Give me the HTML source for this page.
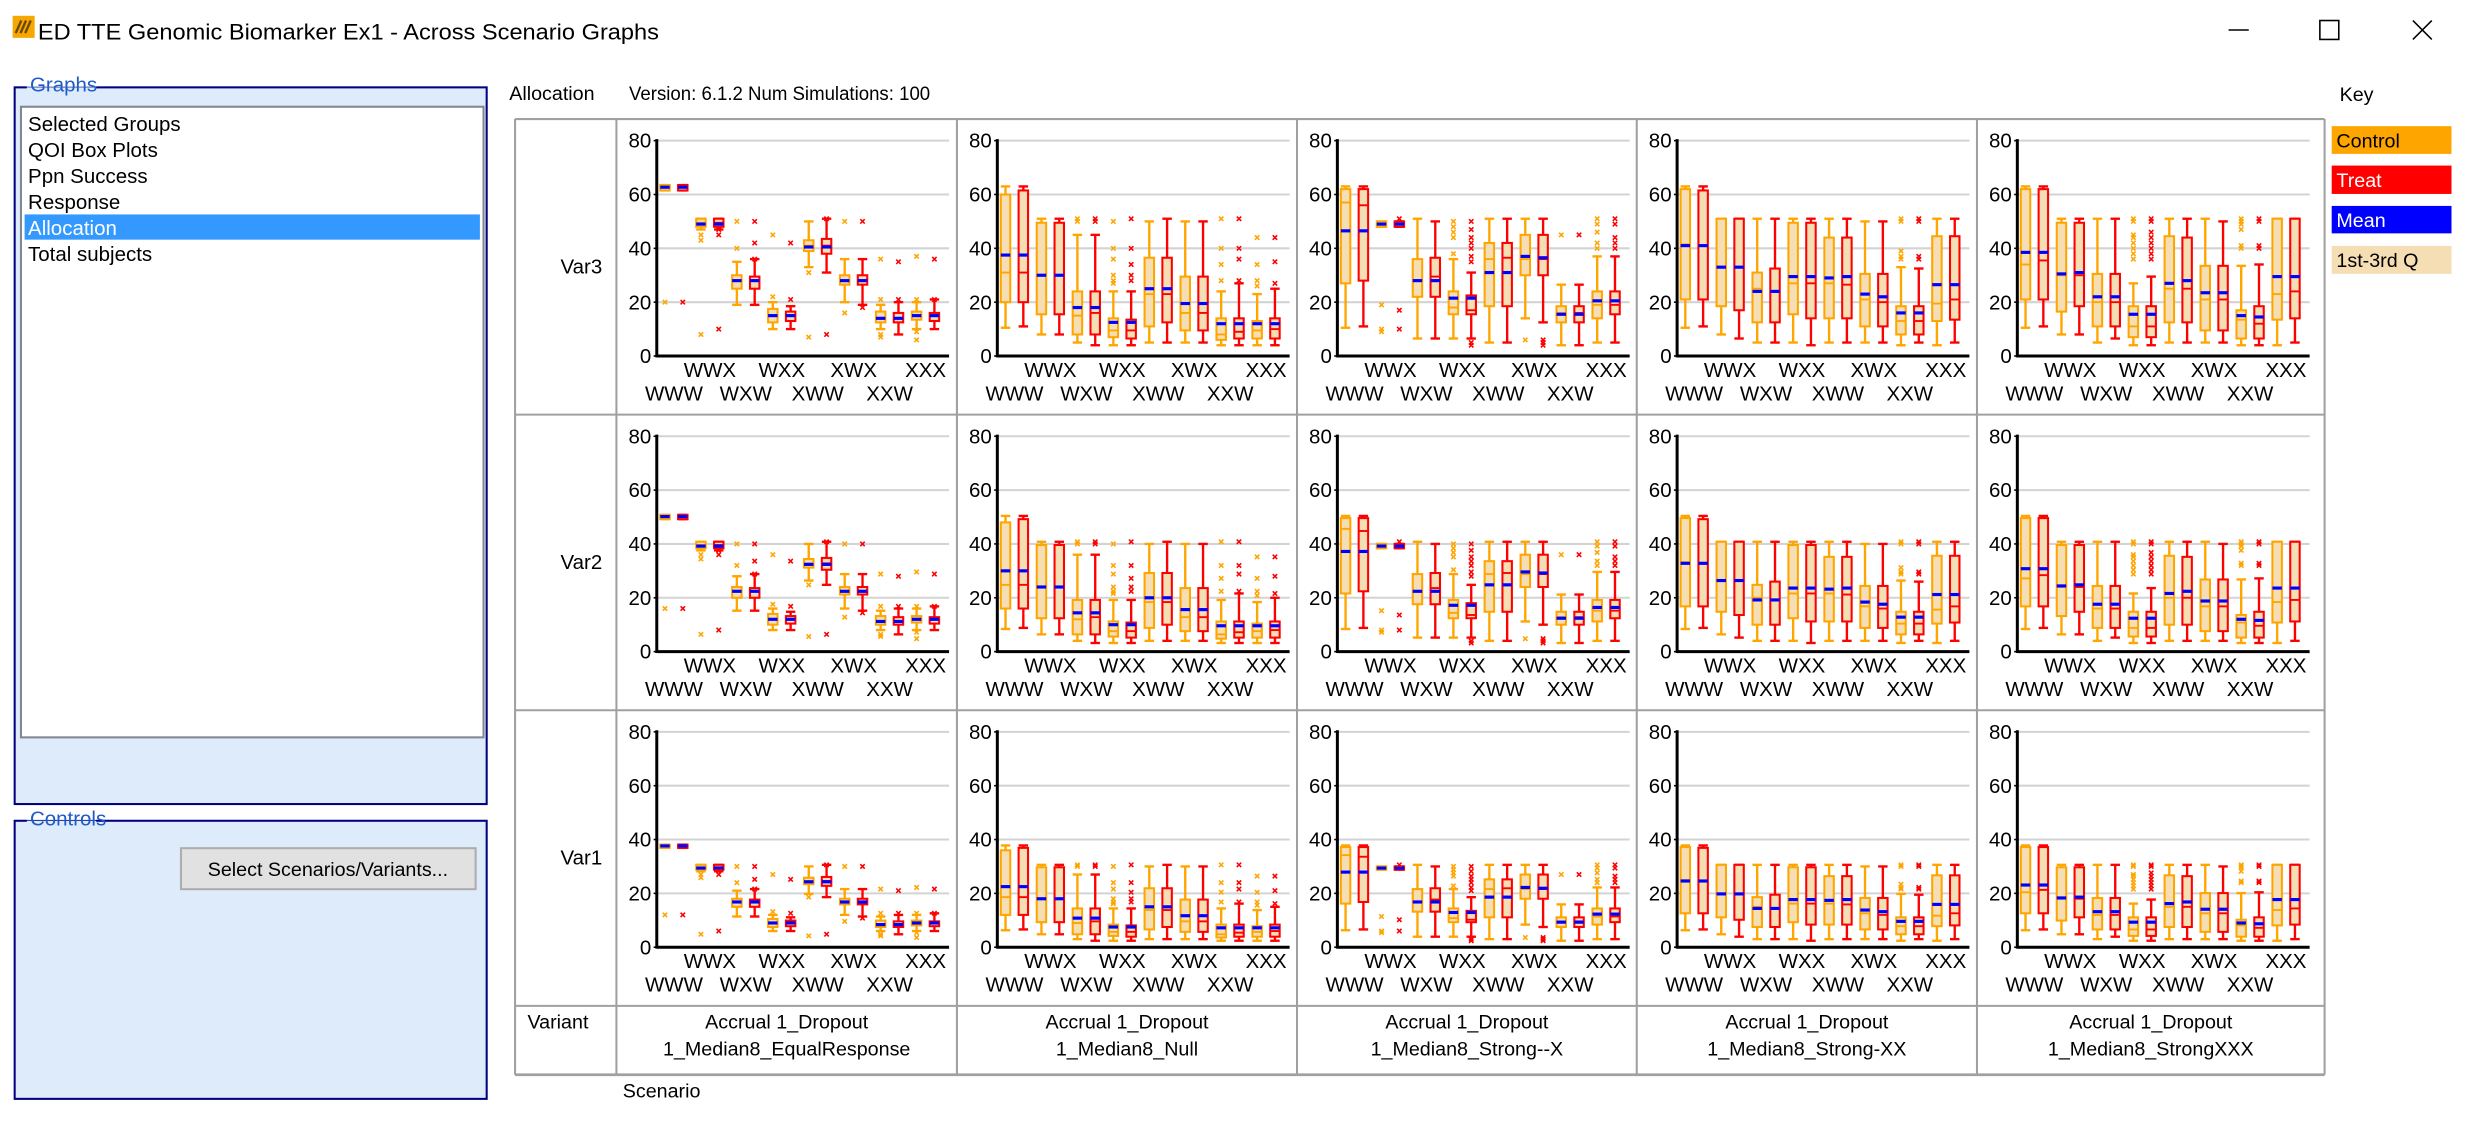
<!DOCTYPE html>
<html><head><meta charset="utf-8"><style>
html,body{margin:0;padding:0;background:#fff;width:2472px;height:1132px;overflow:hidden}
svg{display:block}
text{font-family:"Liberation Sans",sans-serif}
</style></head><body>
<svg id="s" xmlns="http://www.w3.org/2000/svg" width="2472" height="1132" viewBox="0 0 1568 718">
<rect x="0" y="0" width="1568" height="718" fill="#fff"/>
<!-- title bar -->
<rect x="8" y="10" width="14" height="14" fill="#f7a800"/>
<path d="M10 21 L13.5 13 M13 21 L16.5 13 M16 21 L19.5 13" stroke="#6b4a00" stroke-width="1.5"/>
<text x="24" y="25" font-size="14" fill="#000" textLength="394" lengthAdjust="spacingAndGlyphs">ED TTE Genomic Biomarker Ex1 - Across Scenario Graphs</text>
<line x1="1413.6" y1="19" x2="1426.4" y2="19" stroke="#000" stroke-width="1"/>
<rect x="1471.5" y="13" width="12" height="12" fill="none" stroke="#000" stroke-width="1"/>
<path d="M1530.5 13 L1542.5 25 M1542.5 13 L1530.5 25" stroke="#000" stroke-width="1"/>
<!-- Graphs group -->
<rect x="9.3" y="55.4" width="299.4" height="454.6" fill="#deebfb" stroke="#000080" stroke-width="1.3"/>
<rect x="17" y="46" width="44" height="9" fill="#fff"/>
<rect x="17" y="55.4" width="44" height="1.5" fill="#deebfb"/>
<text x="19" y="58" font-size="13" fill="#1c5bc8">Graphs</text>
<rect x="13.3" y="67.7" width="293.4" height="400" fill="#fff" stroke="#828790" stroke-width="1.3"/>
<rect x="15.6" y="136" width="288.8" height="16" fill="#3399ff"/>
<g font-size="13" fill="#000">
<text x="17.8" y="83">Selected Groups</text>
<text x="17.8" y="99.5">QOI Box Plots</text>
<text x="17.8" y="116">Ppn Success</text>
<text x="17.8" y="132.5">Response</text>
<text x="17.8" y="149" fill="#fff">Allocation</text>
<text x="17.8" y="165.5">Total subjects</text>
</g>
<!-- Controls group -->
<rect x="9.3" y="520.6" width="299.4" height="176.4" fill="#deebfb" stroke="#000080" stroke-width="1.3"/>
<rect x="17" y="511" width="44" height="9" fill="#fff"/>
<rect x="17" y="520.6" width="44" height="1.5" fill="#deebfb"/>
<text x="19" y="523.5" font-size="13" fill="#1c5bc8">Controls</text>
<rect x="114.8" y="538" width="186.9" height="26" fill="#e1e1e1" stroke="#adadad" stroke-width="1.3"/>
<text x="208" y="555.5" font-size="12.5" text-anchor="middle" fill="#000">Select Scenarios/Variants...</text>
<!-- header -->
<text x="323" y="63.5" font-size="12.5" fill="#000">Allocation</text>
<text x="399" y="63.5" font-size="12.5" fill="#000" textLength="191" lengthAdjust="spacingAndGlyphs">Version: 6.1.2  Num Simulations: 100</text>
<text x="1484" y="64" font-size="12.5" fill="#000">Key</text>
<rect x="1479" y="80" width="76" height="17.6" fill="#ffa500"/>
<text x="1482" y="93.5" font-size="12.5" fill="#000">Control</text>
<rect x="1479" y="105" width="76" height="18" fill="#ff0000"/>
<text x="1482" y="118.5" font-size="12.5" fill="#fff">Treat</text>
<rect x="1479" y="130.6" width="76" height="17.4" fill="#0000ff"/>
<text x="1482" y="144" font-size="12.5" fill="#fff">Mean</text>
<rect x="1479" y="156" width="76" height="17.7" fill="#f5deb3"/>
<text x="1482" y="169.5" font-size="12.5" fill="#000">1st-3rd Q</text>
<text x="395" y="696" font-size="12.5" fill="#000">Scenario</text>
<g id="grid"></g>
</svg>
<script>
var cols=[391,607,822.7,1038.2,1254,1474.5];
var rows=[75.5,263,450.5,638,681.7];
var D=[
[[[61.5,61.5,62.7,63.5,63.5,62.7,[20]],[61.5,61.5,62.7,63.5,63.5,62.7,[20]]],
 [[47,48,49.5,51,51,49,[45,43,8]],[47,48,49.5,51,51,49,[47,45,10]]],
 [[19,25,28,30,35,28,[50,40]],[19,25,28,29.5,36,28,[50,42,36]]],
 [[10,12.5,15,17.5,20,15,[22,45]],[10,13,15,16.5,18.5,15,[21,42]]],
 [[33,39,41,43,50,40.5,[31,7]],[31,38,41,43.5,51,40.5,[8,51]]],
 [[20,26.5,28,30,36,28,[50,16]],[19,26.5,28,30,36,28,[50,18]]],
 [[10,12.5,14,16.5,19,14,[21,36,8,7]],[8,12.5,14,16,20,14,[35,21]]],
 [[10,13.5,15,16.5,20,15,[21,37,9,6]],[10,13,15,16,21,15,[36,21]]]],
[[[10.5,20,31,60,63,37.5,[]],[11,20,31,61.5,63,37.5,[]]],
 [[8,15.5,30,49.5,51,30,[]],[8,15.5,30,49.5,51,30,[]]],
 [[5,8,15,24,45,18,[51,50]],[4,8,16,24,45,18,[50,51]]],
 [[4,7,9.5,14,24,12.5,[50,40,36,30,28,27]],[4,6.5,9.5,13.5,24,12.5,[51,40,34,30,28]]],
 [[5,11,23,36.5,50,25,[]],[5,12.5,23,36.5,51,25,[]]],
 [[5,9.5,16,29.5,50,19.5,[]],[5,9.5,16,29.5,50,19.5,[]]],
 [[4,6,8,14,24,12,[51,40,34,28]],[4,6.5,9,14,27,12,[51,40,36,28]]],
 [[4,6.5,9.5,13,23,12,[44,34,28,26]],[4,6.5,10,14,25,12,[44,35,27]]]],
[[[10.5,27,57,62,63,46.5,[]],[11,28,56,62,63,46.5,[]]],
 [[48,48,49,50,50,49,[19,10,9]],[48,48,49,50,50,49,[51,17,10]]],
 [[6.5,22,28,36,51,28,[]],[6.5,22,29.5,36.5,50,28,[]]],
 [[6.5,15.5,18,24,36,21.5,[50,48,46,44,38]],[6.5,15.5,17,22.5,31,21.5,[50,47,44,42,40,37,35,5,4]]],
 [[5,18.5,36,42,51,31,[]],[5,18.5,36.5,42,51,31,[]]],
 [[14,30,36,45,51,37,[6]],[12.5,30,36,45,51,36.5,[6,5,4]]],
 [[4,12.5,16,18.5,26.5,15.5,[45]],[4,12.5,16,18.5,26.5,15.5,[45]]],
 [[5,14,19,24,37,20.5,[51,49,46,42,40]],[5,15.5,19,24,37,20.5,[51,49,44,42,40]]]],
[[[10.5,21,41.5,62,63,41,[]],[11,21,41,61.5,63,41,[]]],
 [[8,18.5,33,51,51,33,[]],[6.5,17,33,51,51,33,[]]],
 [[5,12.5,25,31,51,24,[]],[5,12.5,24,32.5,51,24,[]]],
 [[5,15.5,27,49.5,51,29.5,[]],[4,14,27,49.5,51,29.5,[]]],
 [[5,14,27,44,51,29,[]],[5,14,26.5,44,51,29.5,[]]],
 [[5,11,21,30.5,50,23,[]],[5,11,20,30.5,50,22,[]]],
 [[4,8,13,18.5,33,16,[50,51,39,37,36]],[5,8,13,18.5,32.5,16,[50,51,37,36]]],
 [[4,13,19.5,44.5,51,26.5,[]],[5,13.5,21,44.5,51,26.5,[]]]],
[[[10.5,21,34,62,63,38.5,[]],[11,21,35.5,62,63,38.5,[]]],
 [[8,16.5,30,49.5,51,30.5,[]],[8,18.5,30,49.5,51,31,[]]],
 [[5,11,20,30.5,51,22,[]],[6.5,11,20,30.5,51,22,[]]],
 [[4,7,11,18.5,27,15.5,[51,50,45,44,42,40,38,36]],[4,7,11,18.5,29.5,15.5,[51,50,46,44,42,40,38,36]]],
 [[5,12.5,25,44.5,51,27,[]],[5,12.5,25,44,51,28,[]]],
 [[5,9.5,21,33.5,51,23.5,[]],[5,9.5,21,33.5,50,23.5,[]]],
 [[4,6.5,13.5,17,33.5,15,[51,50,49,47,41,40]],[4,6.5,12,18.5,34,14.5,[51,50,41,40]]],
 [[4,13.5,23,51,51,29.5,[]],[5,14,24,51,51,29.5,[]]]]
];
var scales=[1,0.8,0.6];
var names=["Var3","Var2","Var1"];
var vars=["1_Median8_EqualResponse","1_Median8_Null","1_Median8_Strong--X","1_Median8_Strong-XX","1_Median8_StrongXXX"];
var lab=["WWW","WWX","WXW","WXX","XWW","XWX","XXW","XXX"];
var h=[];
function L(x1,y1,x2,y2,c,w){h.push('<line x1="'+x1+'" y1="'+y1+'" x2="'+x2+'" y2="'+y2+'" stroke="'+c+'" stroke-width="'+w+'"/>');}
function T(x,y,s,a,sz,c){h.push('<text x="'+x+'" y="'+y+'" font-size="'+(sz||13)+'" text-anchor="'+(a||'start')+'" fill="'+(c||'#000')+'">'+s+'</text>');}
var G="#a0a0a0";
L(326.7,rows[0],1474.5,rows[0],G,1.3);
for(var r=1;r<5;r++)L(326.7,rows[r],1474.5,rows[r],G,r==4?1.8:1.3);
L(326.7,rows[0],326.7,rows[4],G,1.3);
for(var c=0;c<6;c++)L(cols[c],rows[0],cols[c],rows[4],G,1.3);
for(var r=0;r<3;r++){
  var rt=rows[r];
  T(382,rt+98,names[r],'end',13);
  for(var c=0;c<5;c++){
    var ax=cols[c]+25.6, rx=cols[c]+211;
    var y0=rt+150.3, k=136.6/80;
    function Y(v){return (y0-v*k).toFixed(2);}
    for(var g=20;g<=80;g+=20)L(ax,Y(g),rx,Y(g),"#d3d3d3",1.3);
    for(var g=0;g<=80;g+=20){T(ax-3.5,(+Y(g)+4.5).toFixed(2),g,'end',13);L(ax-2,Y(g),ax,Y(g),"#000",1);}
    L(ax,Y(80)-1,ax,y0+0.9,"#000",1.9);
    L(ax,y0,rx,y0,"#000",1.9);
    for(var i=0;i<8;i++){
      var cx=ax+(5.2+16.5)/2+22.8*i;
      if(i%2==1)T(cx.toFixed(1),rt+163.5,lab[i],'middle',13);
      else T(cx.toFixed(1),rt+178.5,lab[i],'middle',13);
      for(var t=0;t<2;t++){
        var d=D[c][i][t].slice();var s=scales[r];
        var col=t?"#ff0000":"#ffa500";
        var bx=ax+(t?16.5:5.2)+22.8*i, hw=3;
        var lo=d[0]*s,q1=d[1]*s,md=d[2]*s,q3=d[3]*s,hi=d[4]*s,mn=d[5]*s;
        L(bx,Y(hi),bx,Y(q3),col,1.5);L(bx,Y(q1),bx,Y(lo),col,1.5);
        L(bx-hw,Y(hi),bx+hw,Y(hi),col,1.5);L(bx-hw,Y(lo),bx+hw,Y(lo),col,1.5);
        var by=+Y(q3),bh=Math.max(+Y(q1)-by,1.5);
        h.push('<rect x="'+(bx-hw)+'" y="'+by+'" width="'+(2*hw)+'" height="'+bh+'" fill="#f5deb3" stroke="'+col+'" stroke-width="1.3"/>');
        L(bx-hw,Y(md),bx+hw,Y(md),col,1.2);
        L(bx-hw,Y(mn),bx+hw,Y(mn),"#0000ff",2);
        d[6].forEach(function(o){var oy=+Y(o*s);h.push('<path d="M'+(bx-1.4)+' '+(oy-1.4)+'L'+(bx+1.4)+' '+(oy+1.4)+'M'+(bx+1.4)+' '+(oy-1.4)+'L'+(bx-1.4)+' '+(oy+1.4)+'" stroke="'+col+'" stroke-width="1"/>');});
      }
    }
  }
}
T(334.6,652.5,"Variant",'start',12.5);
for(var c=0;c<5;c++){var m=(cols[c]+cols[c+1])/2;T(m,652.5,"Accrual 1_Dropout",'middle',12.5);T(m,669.5,vars[c],'middle',12.5);}
document.getElementById('grid').innerHTML=h.join('');
</script>
</body></html>
